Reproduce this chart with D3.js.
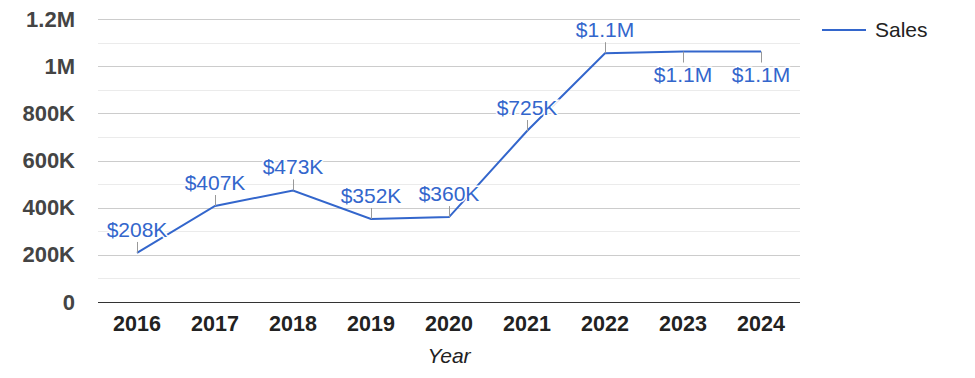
<!DOCTYPE HTML>
<html>
<head>
  <style>
  body {
    margin: 0;
    background: #fff;
    font-family: Arial, "Liberation Sans", sans-serif;
  }
  .grid line {
    shape-rendering: crispEdges;
  }
  </style>
  <script src="https://cdnjs.cloudflare.com/ajax/libs/d3/7.8.5/d3.min.js"></script>
</head>
<body>
  <script type="text/javascript">
  'use strict';
  var years = ['2016', '2017', '2018', '2019', '2020', '2021', '2022', '2023', '2024'];
  var sales = [208000, 407000, 473000, 352000, 360000, 725000, 1055000, 1062000, 1062000];
  var salesLabels = ['$208K', '$407K', '$473K', '$352K', '$360K', '$725K', '$1.1M', '$1.1M', '$1.1M'];
  var labelBelow = [false, false, false, false, false, false, false, true, true];
  var yTicks = [0, 200000, 400000, 600000, 800000, 1000000, 1200000];
  var yTickLabels = ['0', '200K', '400K', '600K', '800K', '1M', '1.2M'];
  var minorTicks = [100000, 300000, 500000, 700000, 900000, 1100000];
  var seriesName = 'Sales';
  var xTitle = 'Year';

  var width = 975, height = 378;
  var plotLeft = 98, plotRight = 800, plotTop = 19, plotBottom = 302;
  var blue = '#3366cc';

  var svg = d3.select('body')
              .append('svg')
              .attr('width', width)
              .attr('height', height);

  var x_scale = d3.scaleBand()
                  .domain(years)
                  .range([plotLeft, plotRight]);
  var y_scale = d3.scaleLinear()
                  .domain([0, 1200000])
                  .range([plotBottom, plotTop]);

  // gridlines
  var grid = svg.append('g').attr('class', 'grid');
  grid.selectAll('.minor')
      .data(minorTicks)
      .enter()
      .append('line')
      .attr('x1', plotLeft).attr('x2', plotRight)
      .attr('y1', function(d) { return Math.round(y_scale(d)) + 0.5; })
      .attr('y2', function(d) { return Math.round(y_scale(d)) + 0.5; })
      .attr('stroke', '#ebebeb');
  grid.selectAll('.major')
      .data(yTicks.slice(1))
      .enter()
      .append('line')
      .attr('x1', plotLeft).attr('x2', plotRight)
      .attr('y1', function(d) { return Math.round(y_scale(d)) + 0.5; })
      .attr('y2', function(d) { return Math.round(y_scale(d)) + 0.5; })
      .attr('stroke', '#cccccc');

  // y labels
  svg.append('g')
     .selectAll('text')
     .data(yTicks)
     .enter()
     .append('text')
     .attr('x', 75)
     .attr('y', function(d) { return y_scale(d) + 7.5; })
     .attr('text-anchor', 'end')
     .attr('font-size', 22)
     .attr('font-weight', 'bold')
     .attr('fill', '#444')
     .text(function(d, i) { return yTickLabels[i]; });

  // x labels
  svg.append('g')
     .selectAll('text')
     .data(years)
     .enter()
     .append('text')
     .attr('x', function(d) { return x_scale(d) + x_scale.bandwidth() / 2; })
     .attr('y', 331)
     .attr('text-anchor', 'middle')
     .attr('font-size', 21.5)
     .attr('font-weight', 'bold')
     .attr('fill', '#222')
     .text(function(d) { return d; });

  svg.append('text')
     .attr('x', (plotLeft + plotRight) / 2)
     .attr('y', 363)
     .attr('text-anchor', 'middle')
     .attr('font-size', 21)
     .attr('font-style', 'italic')
     .attr('fill', '#222')
     .text(xTitle);

  // baseline
  svg.append('line')
     .attr('x1', plotLeft).attr('x2', plotRight)
     .attr('y1', y_scale(0) + 0.5).attr('y2', y_scale(0) + 0.5)
     .attr('stroke', '#333')
     .attr('stroke-width', 1);

  var px = function(i) { return x_scale(years[i]) + x_scale.bandwidth() / 2; };

  // line
  var line = d3.line()
               .x(function(d, i) { return px(i); })
               .y(function(d) { return y_scale(d); });
  svg.append('path')
     .datum(sales)
     .attr('d', line)
     .attr('fill', 'none')
     .attr('stroke', blue)
     .attr('stroke-width', 2);

  // annotation stems
  svg.append('g')
     .selectAll('line')
     .data(sales)
     .enter()
     .append('line')
     .attr('x1', function(d, i) { return Math.round(px(i)) + 0.5; })
     .attr('x2', function(d, i) { return Math.round(px(i)) + 0.5; })
     .attr('y1', function(d) { return y_scale(d); })
     .attr('y2', function(d, i) { return labelBelow[i] ? y_scale(d) + 11 : y_scale(d) - 11; })
     .attr('stroke', '#999')
     .attr('stroke-width', 1);

  // annotation labels
  svg.append('g')
     .selectAll('text')
     .data(sales)
     .enter()
     .append('text')
     .attr('x', function(d, i) { return px(i); })
     .attr('y', function(d, i) { return labelBelow[i] ? y_scale(d) + 30 : y_scale(d) - 16; })
     .attr('text-anchor', 'middle')
     .attr('font-size', 21)
     .attr('fill', blue)
     .attr('stroke', '#fff')
     .attr('stroke-width', 3)
     .attr('paint-order', 'stroke')
     .text(function(d, i) { return salesLabels[i]; });

  // legend
  var legend = svg.append('g');
  legend.append('line')
        .attr('x1', 822).attr('x2', 866)
        .attr('y1', 30).attr('y2', 30)
        .attr('stroke', blue)
        .attr('stroke-width', 2);
  legend.append('text')
        .attr('x', 875)
        .attr('y', 36.5)
        .attr('font-size', 21)
        .attr('fill', '#222')
        .text(seriesName);
  </script>
</body>
</html>
